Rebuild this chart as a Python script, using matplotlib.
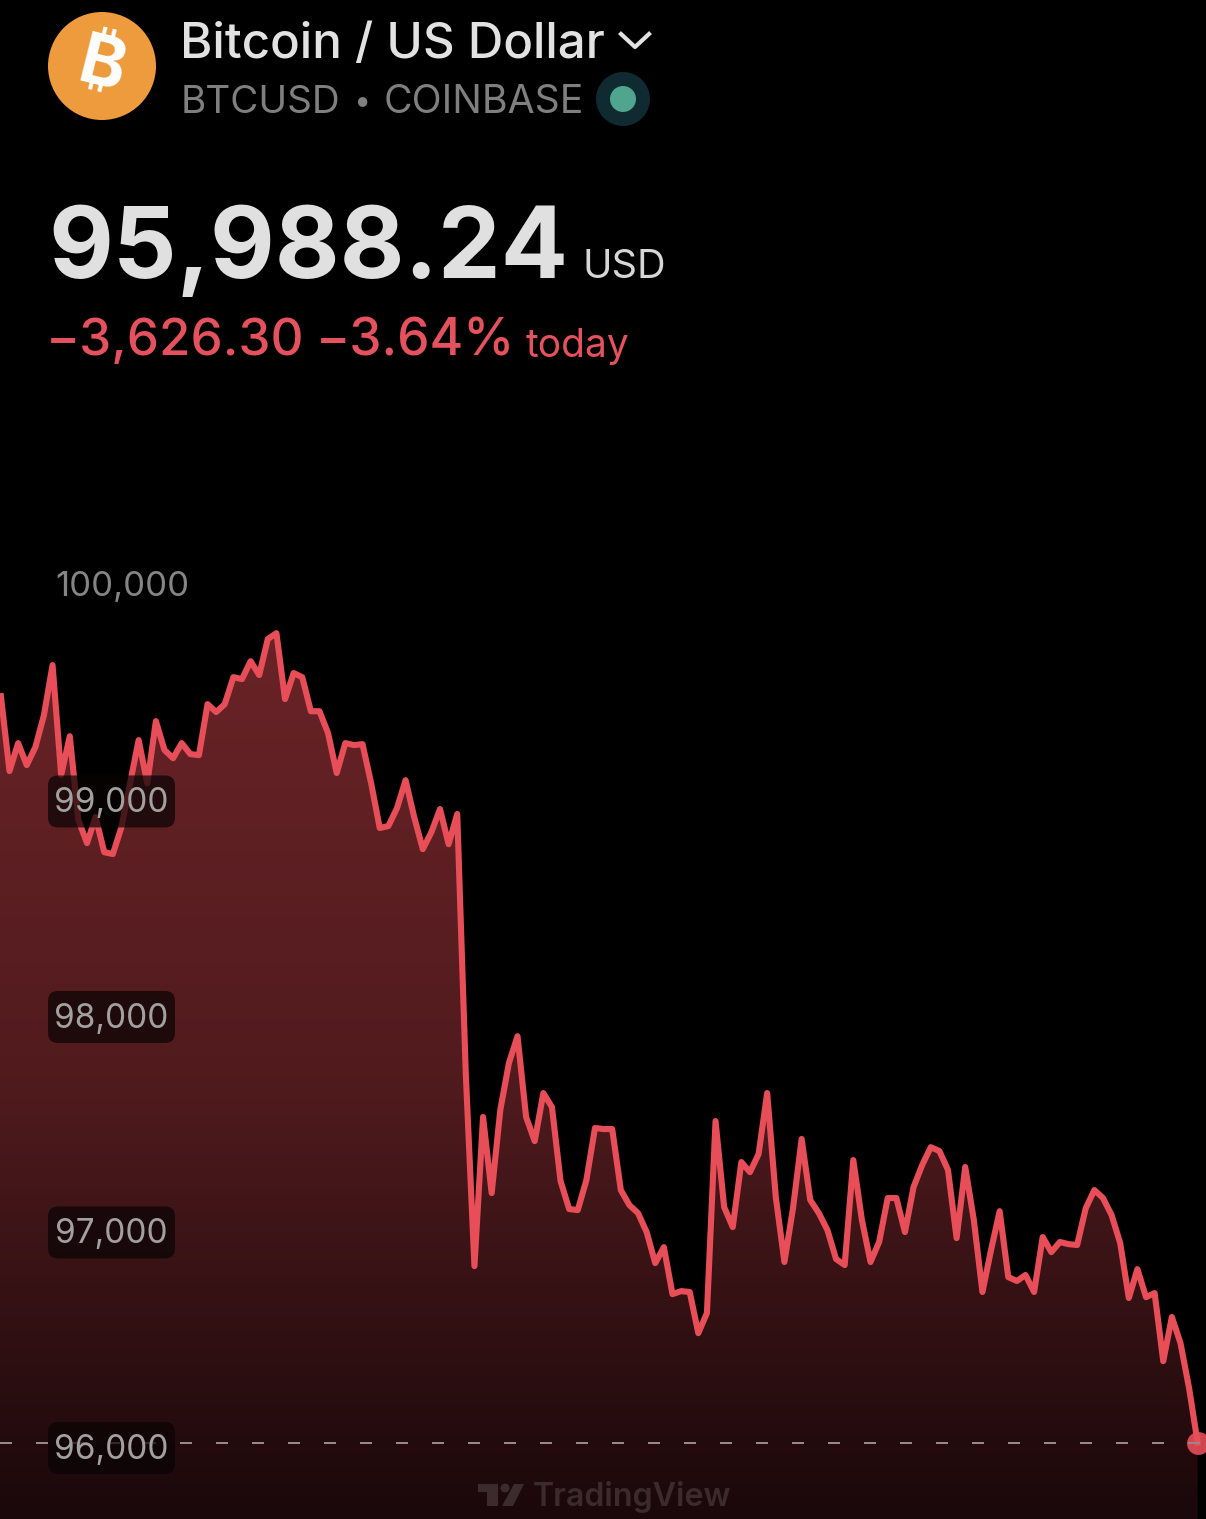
# BTCUSD phone screenshot: area chart with header block

import numpy as np
import matplotlib
matplotlib.use('Agg')
import matplotlib.pyplot as plt
from matplotlib.colors import LinearSegmentedColormap
from matplotlib.patches import Circle, FancyBboxPatch, Polygon

plt.rcParams['font.family'] = ['Inter', 'DejaVu Sans']

# prices, evenly spaced in time
prices = [
    99454, 99106, 99236, 99134, 99217, 99366, 99598, 99088, 99268, 98879,
    98772, 98893, 98730, 98721, 98846, 99050, 99250, 99050, 99338, 99204,
    99166, 99236, 99185, 99180, 99417, 99380, 99417, 99542, 99533, 99616,
    99552, 99719, 99746, 99440, 99561, 99542, 99384, 99384, 99282, 99097,
    99236, 99227, 99231, 99050, 98842, 98851, 98934, 99064, 98893, 98744,
    98823, 98930, 98767, 98907, 97696,
    96809, 97501, 97148, 97533, 97751, 97876, 97501, 97389, 97612, 97547,
    97204, 97074, 97069, 97208, 97450, 97445, 97445, 97162, 97092, 97055,
    96967, 96823, 96897, 96679, 96693, 96689, 96498, 96591, 97482, 97083,
    96990, 97292, 97245, 97329, 97612, 97129, 96828, 97078, 97399, 97116,
    97055, 96976, 96842, 96814,
    97301, 97023, 96828, 96921, 97125, 97125, 96967, 97176, 97278, 97361,
    97343, 97255, 96939, 97269, 97023, 96689, 96884, 97064, 96758, 96740,
    96768, 96689, 96944, 96874, 96921, 96911, 96907, 97078, 97162, 97125,
    97046, 96916, 96661, 96795, 96665, 96684, 96368, 96573, 96452, 96243,
    95988.24,
]
ytick_values = [100000, 99000, 98000, 97000, 96000]
ytick_labels = ['100,000', '99,000', '98,000', '97,000', '96,000']
last_price = 95988.24

W, H = 1206, 1519
PX_PER_STEP = 8.61
PX_PER_USD = 0.2155
X0 = 0.9
Y_LAST = 1443

def priceToPx(p):
    return Y_LAST - (p - last_price)*PX_PER_USD

fig = plt.figure(figsize=(W/100, H/100), dpi=100, facecolor='black')

# chart axes fill the whole picture
ax = fig.add_axes([0, 0, 1, 1], facecolor='black')
xlim = (-X0/PX_PER_STEP, (W - X0)/PX_PER_STEP)
ylim = (last_price - (H - Y_LAST)/PX_PER_USD, last_price + Y_LAST/PX_PER_USD)
ax.axis('off')

x = np.arange(len(prices))
y = np.array(prices)

# gradient under the line, clipped to the area
cmap = LinearSegmentedColormap.from_list('fill', ['#1a080a', '#511b1e', '#6a2327'])
grad = np.linspace(1, 0, 256).reshape(-1, 1)
top_price = last_price + (Y_LAST - 630)/PX_PER_USD
im = ax.imshow(grad, cmap=cmap, aspect='auto', zorder=1,
               extent=[xlim[0], x[-1], ylim[0], top_price])
verts = [(xlim[0], ylim[0]), (xlim[0], y[0])] + list(zip(x, y)) + [(x[-1], ylim[0])]
clip = Polygon(verts, closed=True, transform=ax.transData, facecolor='none', edgecolor='none')
ax.add_patch(clip)
im.set_clip_path(clip)
ax.set_xlim(xlim)
ax.set_ylim(ylim)

ax.plot(x, y, color='#e84e58', lw=4.4, solid_joinstyle='round', zorder=3)
ax.axhline(last_price, color='#958a8a', lw=1.44, dashes=(6, 12), dash_capstyle='butt', zorder=4)
ax.plot([x[-1]], [y[-1]], 'o', ms=16.5, color='#e84e58', alpha=0.9, mew=0, zorder=3.5)

# overlay in pixel coordinates for the screenshot furniture
ov = fig.add_axes([0, 0, 1, 1], facecolor='none')
ov.set_xlim(0, W)
ov.set_ylim(H, 0)
ov.axis('off')

for val, lab in zip(ytick_values, ytick_labels):
    yp = priceToPx(val) + 7.5
    if val == 100000:
        ov.text(122.5, yp + 1.5, lab, color='#858585', fontsize=25, ha='center', va='center')
        continue
    ov.add_patch(FancyBboxPatch((56, yp - 18), 111, 36, boxstyle='round,pad=8,rounding_size=10',
                                fc='#0a0404', ec='none', alpha=0.72))
    ov.text(111, yp + 2, lab, color='#a3a0a0', fontsize=24, ha='center', va='center')

# header
ov.add_patch(Circle((102, 66), 54, fc='#ee9b3e', ec='none'))
ov.text(102, 67, '\u20bf', color='white', fontsize=50, fontweight='bold',
        family=['Inter', 'Roboto', 'Noto Sans', 'Open Sans', 'Lato', 'Liberation Sans', 'DejaVu Sans'],
        rotation=-14, ha='center', va='center')
ov.text(180, 58, 'Bitcoin / US Dollar', color='#e2e2e2', fontsize=35.5, fontweight='medium', va='baseline')
ov.plot([621, 635, 649], [34, 47, 34], color='#e2e2e2', lw=3)
ov.text(180.5, 113, 'BTCUSD', color='#7f7f7f', fontsize=27.8, va='baseline')
ov.text(362, 111, '\u2022', color='#7f7f7f', fontsize=22, ha='center', va='baseline')
ov.text(384, 113, 'COINBASE', color='#7f7f7f', fontsize=28.2, va='baseline')
ov.add_patch(Circle((623, 99), 27, fc='#0f2a31', ec='none'))
ov.add_patch(Circle((623, 99), 13, fc='#4fa58e', ec='none'))

ov.text(48, 278, '95,988.24', color='#e0e0e0', fontsize=71.8, fontweight='bold', va='baseline')
ov.text(583, 278, 'USD', color='#d6d6d6', fontsize=28.5, va='baseline')
ov.text(46, 355, '\u22123,626.30', color='#e5525e', fontsize=36.8, fontweight='medium', va='baseline')
ov.text(316, 355, '\u22123.64%', color='#e5525e', fontsize=37, fontweight='medium', va='baseline')
ov.text(526, 357, 'today', color='#e5525e', fontsize=28, va='baseline')

# watermark
wm = '#3b2b2d'
ov.add_patch(Polygon([(478, 1484), (498, 1484), (498, 1506), (487, 1506), (487, 1492), (478, 1492)],
                     closed=True, fc=wm, ec='none'))
ov.add_patch(Circle((505, 1488), 4.5, fc=wm, ec='none'))
ov.add_patch(Polygon([(514, 1484), (524, 1484), (513, 1506), (502, 1506)], closed=True, fc=wm, ec='none'))
ov.text(533, 1506, 'TradingView', color=wm, fontsize=23.2, fontweight='semibold', va='baseline')

fig.savefig('out.png', dpi=100, facecolor='black')
